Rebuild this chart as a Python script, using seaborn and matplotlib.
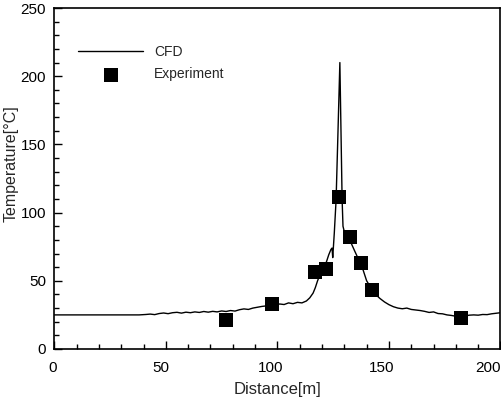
import matplotlib
matplotlib.use("Agg")
import matplotlib.pyplot as plt
import matplotlib.transforms as mtransforms
import seaborn as sns
import numpy as np
import pandas as pd
from matplotlib.ticker import MultipleLocator

# CFD curve
cfd_x = [0, 10, 20, 30, 38, 41, 43, 45, 47, 49, 51, 53, 55, 57, 59, 61, 63, 65, 67, 69,
         71, 73, 75, 77, 79, 81, 83, 85, 87, 89, 91, 93, 95, 97, 99, 101, 103, 105, 107, 109,
         111, 113, 114.5, 116, 117, 118, 119, 120, 121, 122, 123, 124, 124.5, 124.8, 125.5,
         126.3, 127, 128, 128.5, 129, 129.4, 130, 131, 132.4, 133.5, 134.6, 136, 137.6, 139,
         140, 141.5, 142.6, 144, 146, 148, 150, 152, 154, 156, 158, 160, 162, 164, 166, 168,
         170, 172, 174, 176, 178, 180, 182, 184, 186, 188, 190, 192, 194, 196, 198, 200]
cfd_y = [25, 25, 25, 25, 25, 25.3, 25.6, 25.2, 26.0, 26.4, 25.9, 26.6, 26.9, 26.3, 27.0,
         26.6, 27.2, 26.8, 27.5, 27.0, 27.6, 27.2, 27.9, 27.5, 28.2, 27.8, 28.8, 29.4, 29.0,
         30.0, 30.6, 31.2, 31.6, 32.4, 32.0, 33.0, 32.6, 33.8, 33.2, 34.2, 33.8, 35.2, 37.5,
         41, 45, 50, 54, 57, 60, 64, 69, 73, 74, 67, 85, 109, 150, 210, 160, 110, 90, 86, 84,
         80, 76, 72, 67, 62, 55, 50, 46, 43, 40, 37, 34.5, 32.5, 31, 30, 29.5, 30, 29, 28.6,
         28.2, 27.6, 26.8, 27.2, 26, 25.8, 25, 24.6, 24, 23.8, 24.2, 24.8, 25, 24.8, 25.3,
         25.2, 25.8, 26.2, 26.6]

# Experiment points
exp_x = [77, 97.5, 116.8, 121.9, 127.4, 132.4, 137.6, 142.5, 182.5]
exp_y = [21, 33, 56.7, 59, 111.7, 82.3, 62.8, 43.3, 22.4]

x_ticks = [0, 50, 100, 150, 200]
y_ticks = [0, 50, 100, 150, 200, 250]

sns.set_style("ticks")
plt.rcParams['font.family'] = ['Liberation Sans', 'DejaVu Sans']

fig = plt.figure(figsize=(5.01, 4.03), dpi=100)
ax = fig.add_axes([54.3 / 501, (403 - 349) / 403, (501 - 54.3) / 501 - 0.001, 341 / 403])

cfd = pd.DataFrame({"x": cfd_x, "y": cfd_y})
exp = pd.DataFrame({"x": exp_x, "y": exp_y})

sns.lineplot(data=cfd, x="x", y="y", color="black", lw=1.0, sort=False,
             estimator=None, label="CFD", ax=ax)
sns.scatterplot(data=exp, x="x", y="y", marker="s", s=110, color="black",
                edgecolor="black", linewidth=0, label="Experiment", ax=ax, zorder=3)

ax.set_xlim(0, 200)
ax.set_ylim(0, 250)
ax.set_xticks(x_ticks)
ax.set_yticks(y_ticks)
ax.xaxis.set_minor_locator(MultipleLocator(10))
ax.yaxis.set_minor_locator(MultipleLocator(10))
ax.tick_params(which="both", direction="in", top=False, right=False, width=1, colors="black")
ax.tick_params(which="major", length=6, labelsize=11)
ax.tick_params(axis="x", which="major", pad=9)
ax.tick_params(axis="y", which="major", pad=6)
ax.tick_params(which="minor", length=3.5)
for s in ax.spines.values():
    s.set_linewidth(1.2)
    s.set_color("black")

# slight leftward drift of x tick labels as in the reference
shifts_px = [-1.5, -5, -6.5, -7, -12.5]
for lab, dx in zip(ax.get_xticklabels(), shifts_px):
    lab.set_transform(lab.get_transform() +
                      mtransforms.ScaledTranslation(dx / 100, 0, fig.dpi_scale_trans))

ax.set_xlabel("Distance[m]", fontsize=12, labelpad=5)
ax.set_ylabel("Temperature[°C]", fontsize=11.5)
ax.yaxis.set_label_coords(-0.081, 0.543)

ax.legend(loc="upper left", bbox_to_anchor=(0.053, 0.892), frameon=False,
          borderpad=0, borderaxespad=0, handlelength=4.7, handletextpad=0.8,
          labelspacing=0.6, fontsize=10, markerscale=1.0)

fig.savefig("out.png", dpi=100)
